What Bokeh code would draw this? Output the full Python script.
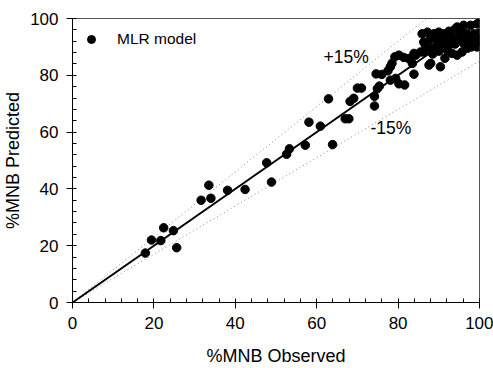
from bokeh.plotting import figure
from bokeh.models import Label, SingleIntervalTicker, Range1d
from bokeh.embed import file_html
from bokeh.resources import INLINE

# observed vs predicted %MNB
observed = [17.9, 19.4, 21.7, 22.4, 24.8, 25.6, 31.6, 33.5, 34.0, 38.1, 42.4, 47.7, 48.9,
            52.6, 53.3, 57.2, 58.1, 60.9, 63.9, 62.9, 67.0, 67.9, 68.2, 69.1, 70.0, 71.0,
            74.2, 74.2, 74.9, 75.4, 74.6, 76.0, 77.5, 78.1, 78.5, 78.1, 79.4, 80.2, 81.6,
            79.2, 80.2, 81.4, 82.6, 83.5, 83.9, 84.3, 83.9, 85.5, 86.3, 85.9,
            87.2, 88.8, 90.0, 91.2, 92.5, 93.8, 94.5, 96.1, 97.8, 99.4, 95.5, 97.0, 98.6, 99.8,
            86.7, 87.8, 89.2, 90.5, 92.1, 92.9, 93.5, 95.0, 96.5, 98.0, 99.5,
            86.3, 88.0, 89.5, 91.0, 92.5, 94.0, 96.1, 97.4, 98.6, 99.4,
            88.5, 90.0, 92.1, 93.3, 94.5, 95.7, 97.0, 99.4, 98.0,
            88.0, 90.4, 87.6, 91.5]
predicted = [17.4, 22.0, 21.8, 26.3, 25.3, 19.3, 36.0, 41.3, 36.7, 39.5, 39.8, 49.2, 42.4,
             52.2, 54.1, 55.4, 63.5, 62.1, 55.6, 71.7, 64.7, 64.7, 70.8, 71.9, 75.5, 75.5,
             72.6, 69.2, 75.3, 76.2, 80.5, 80.3, 81.6, 83.0, 84.2, 78.3, 78.9, 77.0, 76.6,
             86.5, 87.1, 86.3, 85.9, 84.2, 80.4, 87.1, 87.7, 88.2, 91.7, 94.6,
             95.2, 94.6, 95.2, 94.6, 95.5, 96.0, 97.0, 97.6, 97.6, 98.1, 95.5, 94.6, 94.6, 94.8,
             90.6, 92.5, 93.0, 92.0, 93.6, 94.6, 92.5, 93.0, 92.8, 93.2, 93.0,
             88.2, 89.5, 90.5, 91.0, 90.5, 91.0, 91.2, 91.7, 91.2, 91.7,
             87.5, 88.5, 88.8, 87.7, 87.1, 88.2, 89.5, 90.0, 90.0,
             84.2, 83.0, 83.6, 86.0]

line_x = [0, 100]
band_ratios = [1.15, 0.85]
band_labels = ["+15%", "-15%"]

FONT = "Liberation Sans"

p = figure(width=493, height=368, output_backend="svg", toolbar_location=None,
           x_range=Range1d(0, 100), y_range=Range1d(0, 100),
           min_border_left=72, min_border_right=14, min_border_top=18, min_border_bottom=64)
p.xgrid.visible = False
p.ygrid.visible = False
p.outline_line_color = "#555555"
p.outline_line_width = 1

for ax in (p.xaxis[0], p.yaxis[0]):
    ax.ticker = SingleIntervalTicker(interval=20, num_minor_ticks=5)
    ax.major_tick_out = 6
    ax.major_tick_in = 0
    ax.minor_tick_in = 4
    ax.minor_tick_out = 0
    ax.axis_line_color = "black"
    ax.major_tick_line_color = "black"
    ax.minor_tick_line_color = "black"
    ax.major_label_text_font = FONT
    ax.major_label_text_font_size = "17px"
    ax.major_label_text_color = "black"
    ax.axis_label_text_font = FONT
    ax.axis_label_text_font_size = "18px"
    ax.axis_label_text_font_style = "normal"
    ax.axis_label_text_color = "black"

p.xaxis.axis_label = "%MNB Observed"
p.yaxis.axis_label = "%MNB Predicted"
p.xaxis.major_label_standoff = 8
p.yaxis.major_label_standoff = 8
p.xaxis.axis_label_standoff = 14
p.yaxis.axis_label_standoff = 4

# +/-15% dotted bands
for r in band_ratios:
    xs = [0, min(100, 100 / r)]
    ys = [0, min(100, 100 / r) * r]
    p.line(xs, ys, line_color="#888888", line_width=1, line_dash="1 3")

# 1:1 line
p.line(line_x, line_x, line_color="black", line_width=2)

p.scatter(observed, predicted, size=8.5, fill_color="black", line_color="black",
          legend_label="MLR model")

p.add_layout(Label(x=61.7, y=86.4, text=band_labels[0], text_font=FONT, text_color="black",
                   text_font_size="17.5px", text_baseline="middle", text_align="left"))
p.add_layout(Label(x=73.2, y=61.5, text=band_labels[1], text_font=FONT, text_color="black",
                   text_font_size="17.5px", text_baseline="middle", text_align="left"))

lg = p.legend[0]
lg.location = (9, 253)
lg.background_fill_alpha = 0
lg.border_line_alpha = 0
lg.padding = 0
lg.margin = 0
lg.spacing = 0
lg.glyph_width = 20
lg.glyph_height = 20
lg.label_standoff = 16
lg.label_text_font = FONT
lg.label_text_font_size = "15.5px"
lg.label_text_color = "black"

open("out.html", "w").write(file_html(p, INLINE))
